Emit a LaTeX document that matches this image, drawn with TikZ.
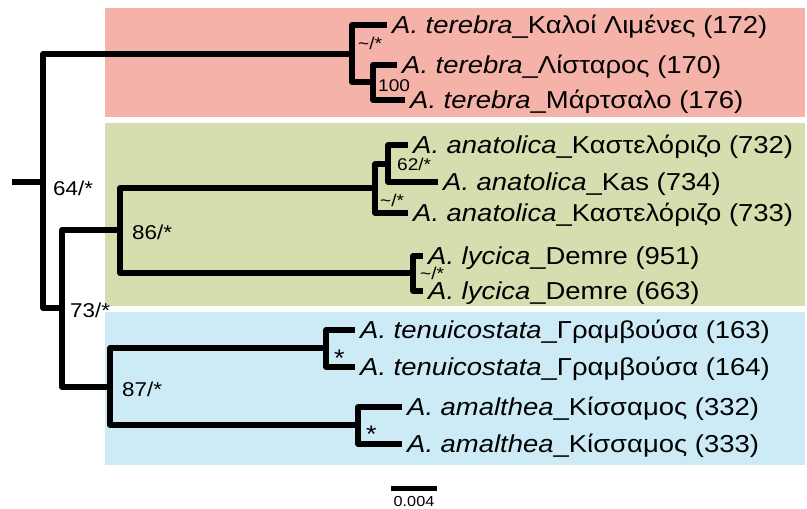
\documentclass[tikz,border=0pt]{standalone}
\usepackage{fontspec}
\setmainfont{Liberation Sans}[FakeStretch=1.12]
\definecolor{cladeRed}{RGB}{245,178,168}
\definecolor{cladeGreen}{RGB}{213,222,174}
\definecolor{cladeBlue}{RGB}{204,235,247}
\begin{document}
\begin{tikzpicture}[x=1pt,y=-1pt,
  branch/.style={line width=5.5pt, line join=round, line cap=butt},
  leaf/.style={anchor=west, inner xsep=5pt, inner ysep=0pt,
    font=\fontsize{24.5}{28}\selectfont, text height=17.5pt, text depth=0pt},
  support/.style={anchor=base west, inner sep=0pt, font=\fontsize{20}{24}\selectfont},
  starmark/.style={anchor=base west, inner sep=0pt, font=\fontsize{24}{28}\selectfont},
  minor/.style={anchor=base west, inner sep=0pt, font=\fontsize{17}{20}\selectfont},
]
\useasboundingbox (0,0) rectangle (807,509);

% clade backgrounds
\fill[cladeRed]   (105,8)   rectangle (805,117);
\fill[cladeGreen] (105,123) rectangle (805,306);
\fill[cladeBlue]  (105,312) rectangle (805,465);

% internal nodes
\coordinate (r0)    at (12,182);
\coordinate (root)  at (43,182);
\coordinate (nter)  at (352,54);
\coordinate (nter2) at (373,82);
\coordinate (n73)   at (62,308);
\coordinate (n86)   at (120,230);
\coordinate (nan)   at (375,188);
\coordinate (nan2)  at (388,164);
\coordinate (nly)   at (413,273);
\coordinate (n87)   at (110,387);
\coordinate (nte)   at (326,348);
\coordinate (nam)   at (358,425);

% tips
\node[leaf] (t172) at (387,25)  {{\itshape A. terebra}\_Καλοί Λιμένες (172)};
\node[leaf] (t170) at (397,65)  {{\itshape A. terebra}\_Λίσταρος (170)};
\node[leaf] (t176) at (405,100) {{\itshape A. terebra}\_Μάρτσαλο (176)};
\node[leaf] (a732) at (408,145) {{\itshape A. anatolica}\_Καστελόριζο (732)};
\node[leaf] (a734) at (438,182) {{\itshape A. anatolica}\_Kas (734)};
\node[leaf] (a733) at (408,213) {{\itshape A. anatolica}\_Καστελόριζο (733)};
\node[leaf] (l951) at (423,256) {{\itshape A. lycica}\_Demre (951)};
\node[leaf] (l663) at (423,291) {{\itshape A. lycica}\_Demre (663)};
\node[leaf] (g163) at (355,330) {{\itshape A. tenuicostata}\_Γραμβούσα (163)};
\node[leaf] (g164) at (355,367) {{\itshape A. tenuicostata}\_Γραμβούσα (164)};
\node[leaf] (k332) at (402,407) {{\itshape A. amalthea}\_Κίσσαμος (332)};
\node[leaf] (k333) at (402,444) {{\itshape A. amalthea}\_Κίσσαμος (333)};

% branches
\draw[branch] (r0) -- (root);
\draw[branch] (root) |- (nter);
\draw[branch] (root) |- (n73);
\draw[branch] (nter) |- (t172.west);
\draw[branch] (nter) |- (nter2);
\draw[branch] (nter2) |- (t170.west);
\draw[branch] (nter2) |- (t176.west);
\draw[branch] (n73) |- (n86);
\draw[branch] (n73) |- (n87);
\draw[branch] (n86) |- (nan);
\draw[branch] (n86) |- (nly);
\draw[branch] (nan) |- (nan2);
\draw[branch] (nan) |- (a733.west);
\draw[branch] (nan2) |- (a732.west);
\draw[branch] (nan2) |- (a734.west);
\draw[branch] (nly) |- (l951.west);
\draw[branch] (nly) |- (l663.west);
\draw[branch] (n87) |- (nte);
\draw[branch] (n87) |- (nam);
\draw[branch] (nte) |- (g163.west);
\draw[branch] (nte) |- (g164.west);
\draw[branch] (nam) |- (k332.west);
\draw[branch] (nam) |- (k333.west);

% support values
\node[support] (s64) at (53,195)  {64/*};
\node[support] (s86) at (132,239) {86/*};
\node[support] (s73) at (70,317)  {73/*};
\node[support] (s87) at (122,396) {87/*};
\node[starmark] (ste) at (334,366) {*};
\node[starmark] (sam) at (366,442) {*};
\node[minor] (ster)  at (358,49)  {\textasciitilde/*};
\node[minor] (ster2) at (378,91)  {100};
\node[minor] (san2)  at (397,170) {62/*};
\node[minor] (san)   at (380,206) {\textasciitilde/*};
\node[minor] (sly)   at (420,279) {\textasciitilde/*};

% scale bar
\coordinate (sb0) at (391,488.5);
\coordinate (sb1) at (437,488.5);
\draw[line width=5pt] (sb0) -- (sb1);
\node[anchor=base, inner sep=0pt, font=\fontsize{14.5}{17}\selectfont] (sbl) at (414,506.5) {0.004};
\end{tikzpicture}
\end{document}
